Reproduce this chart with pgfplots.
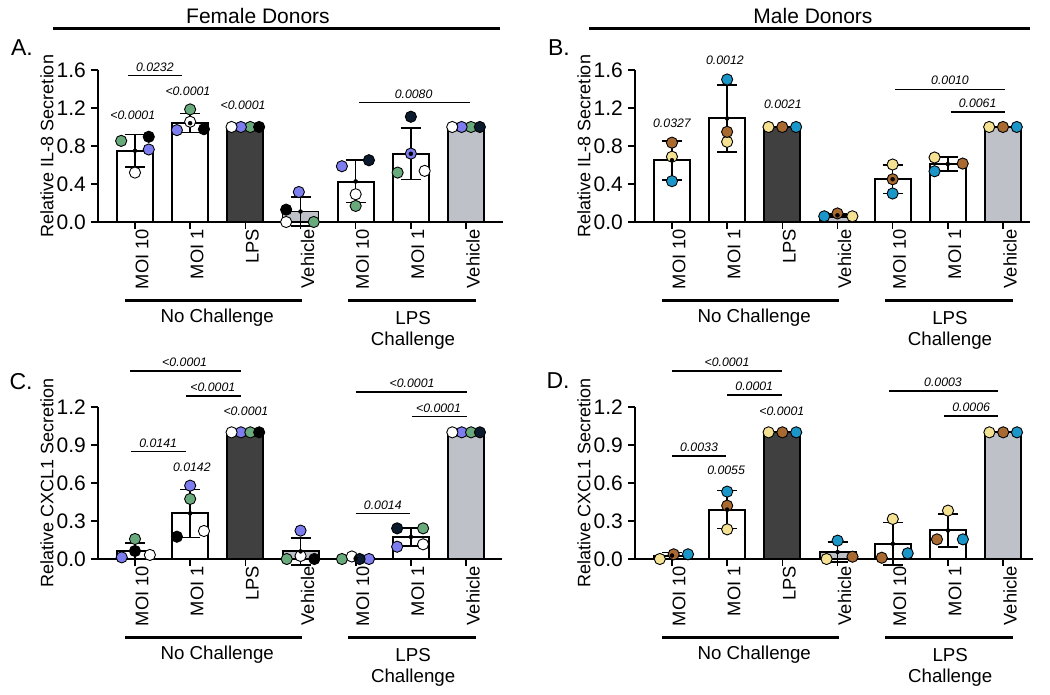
\documentclass[border=0pt]{standalone}
\usepackage{pgfplots}
\pgfplotsset{compat=1.18}
\usepackage{fontspec}
\setmainfont{Liberation Sans}

% donor colours
\definecolor{dblue}{HTML}{7D7DF0}
\definecolor{dgreen}{HTML}{69AA7D}
\definecolor{dnavy}{HTML}{0B1A2C}
\definecolor{dyellow}{HTML}{F4E192}
\definecolor{dbrown}{HTML}{A86A30}
\definecolor{dcyan}{HTML}{1A97C8}
% bar fills
\definecolor{bardark}{HTML}{404040}
\definecolor{barlight}{HTML}{BEC2C8}

\newcommand{\pv}{\fontsize{12.3}{13}\selectfont\itshape}
\tikzset{sig/.style={line width=1.5pt}}

\pgfplotsset{
  panel/.style={
    scale only axis,
    height=152pt,
    ymin=0,
    xmin=-0.67,
    anchor=south west,
    clip=false,
    axis x line*=bottom,
    axis y line*=left,
    axis line style={line width=1.9pt, -},
    tick style={line width=1.6pt, black},
    tick align=outside,
    major tick length=7pt,
    xtick={0,...,6},
    xticklabels={MOI 10, MOI 1, LPS, Vehicle, MOI 10, MOI 1, Vehicle},
    xticklabel style={rotate=90, anchor=east, inner sep=0pt, yshift=-7pt,
      font=\fontsize{18.3}{18}\selectfont},
    yticklabel style={anchor=east, inner sep=0pt, xshift=-5pt,
      font=\fontsize{21}{21}\selectfont},
    /pgf/number format/fixed,
    /pgf/number format/fixed zerofill,
    /pgf/number format/precision=1,
    /pgf/number format/assume math mode=true,
  },
  bars/.style={ybar, bar shift=0pt, bar width=36pt, draw=black,
    line width=1.9pt, fill=#1},
  dots/.style={only marks, mark=*, mark size=5.6pt,
    mark options={draw=black, line width=0.9pt, fill=#1}},
  errs/.style={only marks, mark=none, black,
    error bars/.cd, y dir=both, y explicit,
    error bar style={line width=1.6pt, black},
    error mark options={rotate=90, mark size=10pt, line width=1.6pt, black}},
}

% treatment group brackets under the category labels
\newcommand{\groups}{%
  \draw[line width=3pt] ([yshift=-79pt]axis cs:-0.18,0) -- ([yshift=-79pt]axis cs:3.03,0);
  \draw[line width=3pt] ([yshift=-79pt]axis cs:3.86,0) -- ([yshift=-79pt]axis cs:6.18,0);
  \node[font=\fontsize{18.7}{19}\selectfont] at ([yshift=-96pt]axis cs:1.49,0) {No Challenge};
  \node[font=\fontsize{18.7}{19}\selectfont] at ([yshift=-96pt]axis cs:5.04,0) {LPS};
  \node[font=\fontsize{18.7}{19}\selectfont] at ([yshift=-119pt]axis cs:5.04,0) {Challenge};
}
\newcommand{\ylab}[1]{%
  \node[rotate=90, font=\fontsize{18}{18}\selectfont] at ([xshift=-51pt]rel axis cs:0,0.5) {#1};
}

\begin{document}
\begin{tikzpicture}[x=1pt, y=1pt]
\useasboundingbox (0,0) rectangle (1050,695);

% headers
\node[font=\fontsize{21}{21}\selectfont] at (258,679) {Female Donors};
\draw[line width=3pt] (53,666) -- (500,666);
\node[font=\fontsize{21}{21}\selectfont] at (813,679) {Male Donors};
\draw[line width=3pt] (589,666) -- (1030,666);
\node[font=\fontsize{23}{23}\selectfont] at (22,647) {A.};
\node[font=\fontsize{23}{23}\selectfont] at (559,647) {B.};
\node[font=\fontsize{23}{23}\selectfont] at (21,313) {C.};
\node[font=\fontsize{23}{23}\selectfont] at (558,314) {D.};

% ---------------- A: IL-8, female donors ----------------
\begin{axis}[panel, at={(98pt,473pt)}, width=405pt, xmax=6.67,
  ymax=1.6, ytick={0,0.4,...,1.6}]
\addplot[bars=white] coordinates {(0,0.75) (1,1.04) (4,0.42) (5,0.72)};
\addplot[bars=bardark] coordinates {(2,1.0)};
\addplot[bars=barlight] coordinates {(3,0.11) (6,1.0)};
\addplot[dots=dgreen] coordinates {(-0.25,0.854) (1,1.185) (2.09,1.0) (3.24,0.0) (4,0.169) (4.76,0.52) (6.09,1.0)};
\addplot[dots=black] coordinates {(0.25,0.897) (1.25,0.977) (2.25,1.0) (2.74,0.13)};
\addplot[dots=dnavy] coordinates {(4.24,0.65) (5,1.108) (6.25,1.0)};
\addplot[dots=dblue] coordinates {(0.25,0.763) (0.76,0.967) (1.92,1.0) (2.97,0.316) (3.75,0.587) (5,0.72) (5.92,1.0)};
\addplot[dots=white] coordinates {(0,0.52) (1,1.055) (1.75,1.0) (2.74,0.0) (4,0.292) (5.25,0.538) (5.75,1.0)};
\addplot[errs] coordinates {(0,0.75) +- (0,0.17) (1,1.04) +- (0,0.10) (3,0.11) +- (0,0.15) (4,0.427) +- (0,0.223) (5,0.718) +- (0,0.272)};
\draw[sig] (axis cs:-0.13,1.54) -- (axis cs:0.85,1.54);
\node[font=\pv] at (axis cs:0.36,1.63) {0.0232};
\node[font=\pv] at (axis cs:-0.04,1.125) {<0.0001};
\node[font=\pv] at (axis cs:0.96,1.38) {<0.0001};
\node[font=\pv] at (axis cs:1.96,1.23) {<0.0001};
\draw[sig] (axis cs:4.06,1.26) -- (axis cs:6.07,1.26);
\node[font=\pv] at (axis cs:5.05,1.347) {0.0080};
\groups
\ylab{Relative IL-8 Secretion}
\end{axis}

% ---------------- B: IL-8, male donors ----------------
\begin{axis}[panel, at={(635pt,473pt)}, width=395pt, xmax=6.49,
  ymax=1.6, ytick={0,0.4,...,1.6}]
\addplot[bars=white] coordinates {(0,0.65) (1,1.09) (4,0.45) (5,0.61)};
\addplot[bars=bardark] coordinates {(2,1.0)};
\addplot[bars=barlight] coordinates {(3,0.07) (6,1.0)};
\addplot[dots=dyellow] coordinates {(0,0.687) (1,0.844) (1.75,1.0) (3.27,0.06) (4,0.605) (4.76,0.679) (5.75,1.0)};
\addplot[dots=dbrown] coordinates {(0,0.835) (1,0.949) (2,1.0) (3,0.09) (4,0.45) (5.27,0.615) (6,1.0)};
\addplot[dots=dcyan] coordinates {(0,0.43) (1,1.50) (2.25,1.0) (2.76,0.06) (4,0.30) (4.76,0.534) (6.25,1.0)};
\addplot[errs] coordinates {(0,0.65) +- (0,0.205) (1,1.09) +- (0,0.355) (3,0.07) +- (0,0.017) (4,0.45) +- (0,0.15) (5,0.61) +- (0,0.072)};
\node[font=\pv] at (axis cs:0,1.044) {0.0327};
\node[font=\pv] at (axis cs:0.96,1.705) {0.0012};
\node[font=\pv] at (axis cs:2.01,1.238) {0.0021};
\draw[sig] (axis cs:4.04,1.396) -- (axis cs:6.03,1.396);
\node[font=\pv] at (axis cs:5.04,1.487) {0.0010};
\draw[sig] (axis cs:5.05,1.16) -- (axis cs:6.03,1.16);
\node[font=\pv] at (axis cs:5.54,1.248) {0.0061};
\groups
\ylab{Relative IL-8 Secretion}
\end{axis}

% ---------------- C: CXCL1, female donors ----------------
\begin{axis}[panel, at={(98pt,136pt)}, width=404pt, xmax=6.65,
  ymax=1.2, ytick={0,0.3,...,1.2}]
\addplot[bars=white] coordinates {(0,0.06) (1,0.36) (4,0.005) (5,0.174)};
\addplot[bars=bardark] coordinates {(2,1.0)};
\addplot[bars=barlight] coordinates {(3,0.06) (6,1.0)};
\addplot[dots=dblue] coordinates {(-0.24,0.013) (1,0.579) (1.92,1.0) (3,0.224) (4.24,0.0) (4.75,0.097) (5.92,1.0)};
\addplot[dots=dgreen] coordinates {(0,0.158) (1,0.474) (2.09,1.0) (2.75,0.0) (3.75,0.0) (5.22,0.242) (6.09,1.0)};
\addplot[dots=black] coordinates {(0,0.063) (0.76,0.176) (2.25,1.0) (3.25,0.0)};
\addplot[dots=white] coordinates {(0.27,0.032) (1.25,0.221) (1.75,1.0) (3,0.024) (3.93,0.02) (5.22,0.116) (5.75,1.0)};
\addplot[dots=dnavy] coordinates {(4.07,0.0) (4.75,0.242) (6.25,1.0)};
\addplot[errs] coordinates {(0,0.06) +- (0,0.065) (1,0.36) +- (0,0.19) (3,0.06) +- (0,0.107) (4,0.005) +- (0,0.01) (5,0.174) +- (0,0.073)};
\draw[sig] (axis cs:-0.09,1.484) -- (axis cs:1.92,1.484);
\node[font=\pv] at (axis cs:0.9,1.552) {<0.0001};
\draw[sig] (axis cs:0.92,1.286) -- (axis cs:1.92,1.286);
\node[font=\pv] at (axis cs:1.41,1.355) {<0.0001};
\node[font=\pv] at (axis cs:2.01,1.163) {<0.0001};
\draw[sig] (axis cs:-0.07,0.847) -- (axis cs:0.92,0.847);
\node[font=\pv] at (axis cs:0.42,0.913) {0.0141};
\node[font=\pv] at (axis cs:1.03,0.724) {0.0142};
\draw[sig] (axis cs:4.0,1.32) -- (axis cs:6.01,1.32);
\node[font=\pv] at (axis cs:5.02,1.387) {<0.0001};
\draw[sig] (axis cs:5.02,1.123) -- (axis cs:6.01,1.123);
\node[font=\pv] at (axis cs:5.5,1.189) {<0.0001};
\draw[sig] (axis cs:4.0,0.36) -- (axis cs:4.98,0.36);
\node[font=\pv] at (axis cs:4.49,0.426) {0.0014};
\groups
\ylab{Relative CXCL1 Secretion}
\end{axis}

% ---------------- D: CXCL1, male donors ----------------
\begin{axis}[panel, at={(635pt,136pt)}, width=398pt, xmax=6.54,
  ymax=1.2, ytick={0,0.3,...,1.2}]
\addplot[bars=white] coordinates {(0,0.027) (1,0.39) (4,0.12) (5,0.23)};
\addplot[bars=bardark] coordinates {(2,1.0)};
\addplot[bars=barlight] coordinates {(3,0.055) (6,1.0)};
\addplot[dots=dyellow] coordinates {(-0.22,0.0) (1,0.234) (1.75,1.0) (2.8,0.0) (4,0.316) (5,0.382) (5.75,1.0)};
\addplot[dots=dbrown] coordinates {(0.03,0.037) (1,0.421) (2,1.0) (3.27,0.018) (3.8,0.01) (4.8,0.155) (6,1.0)};
\addplot[dots=dcyan] coordinates {(0.29,0.037) (1,0.532) (2.25,1.0) (3,0.145) (4.27,0.045) (5.27,0.155) (6.25,1.0)};
\addplot[errs] coordinates {(0,0.027) +- (0,0.023) (1,0.39) +- (0,0.15) (3,0.055) +- (0,0.077) (4,0.12) +- (0,0.167) (5,0.225) +- (0,0.131)};
\draw[sig] (axis cs:0,1.486) -- (axis cs:1.99,1.486);
\node[font=\pv] at (axis cs:0.996,1.552) {<0.0001};
\draw[sig] (axis cs:1.0,1.294) -- (axis cs:1.99,1.294);
\node[font=\pv] at (axis cs:1.49,1.365) {0.0001};
\node[font=\pv] at (axis cs:1.99,1.17) {<0.0001};
\draw[sig] (axis cs:0,0.815) -- (axis cs:0.98,0.815);
\node[font=\pv] at (axis cs:0.49,0.886) {0.0033};
\node[font=\pv] at (axis cs:0.98,0.697) {0.0055};
\draw[sig] (axis cs:3.93,1.328) -- (axis cs:5.9,1.328);
\node[font=\pv] at (axis cs:4.91,1.395) {0.0003};
\draw[sig] (axis cs:4.93,1.129) -- (axis cs:5.9,1.129);
\node[font=\pv] at (axis cs:5.42,1.197) {0.0006};
\groups
\ylab{Relative CXCL1 Secretion}
\end{axis}
\end{tikzpicture}
\end{document}
